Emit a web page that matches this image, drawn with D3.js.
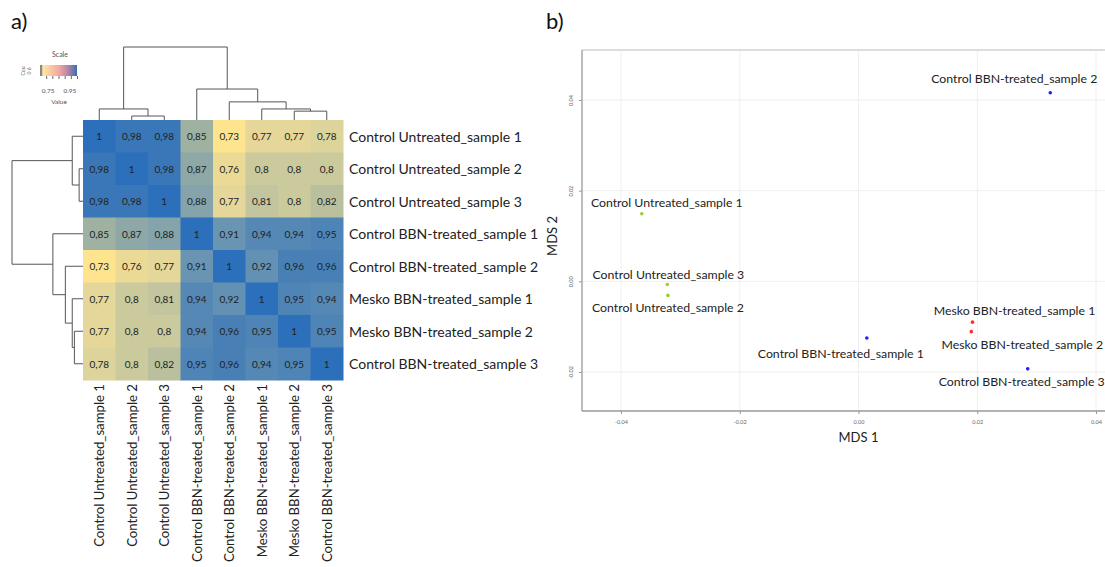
<!DOCTYPE html>
<html>
<head>
<meta charset="utf-8">
<script src="https://cdn.jsdelivr.net/npm/d3@7"></script>
<style>
body { margin: 0; background: #fff; }
text { font-family: Lato, "Open Sans", sans-serif; }
</style>
</head>
<body>
<svg id="chart" width="1105" height="567"></svg>
<script>
// heatmap data (row order = column order)
var samples = ["Control Untreated_sample 1", "Control Untreated_sample 2", "Control Untreated_sample 3",
    "Control BBN-treated_sample 1", "Control BBN-treated_sample 2", "Mesko BBN-treated_sample 1",
    "Mesko BBN-treated_sample 2", "Control BBN-treated_sample 3"];
var corr = [
    [1, 0.98, 0.98, 0.85, 0.73, 0.77, 0.77, 0.78],
    [0.98, 1, 0.98, 0.87, 0.76, 0.8, 0.8, 0.8],
    [0.98, 0.98, 1, 0.88, 0.77, 0.81, 0.8, 0.82],
    [0.85, 0.87, 0.88, 1, 0.91, 0.94, 0.94, 0.95],
    [0.73, 0.76, 0.77, 0.91, 1, 0.92, 0.96, 0.96],
    [0.77, 0.8, 0.81, 0.94, 0.92, 1, 0.95, 0.94],
    [0.77, 0.8, 0.8, 0.94, 0.96, 0.95, 1, 0.95],
    [0.78, 0.8, 0.82, 0.95, 0.96, 0.94, 0.95, 1]
];
// dendrogram merges: [child a, child b, height]; leaves 0-7, new nodes 8+
var merges = [[1, 2, 0.018], [0, 8, 0.05], [6, 7, 0.04], [5, 10, 0.05], [4, 11, 0.082], [3, 12, 0.14], [9, 13, 0.33]];
var scaleTicks = [0.75, 0.95];

// MDS data
var mdsNames = ["Control BBN-treated_sample 2", "Control Untreated_sample 1", "Control Untreated_sample 3",
    "Control Untreated_sample 2", "Mesko BBN-treated_sample 1", "Mesko BBN-treated_sample 2",
    "Control BBN-treated_sample 1", "Control BBN-treated_sample 3"];
var mdsX = [0.0323, -0.0365, -0.0322, -0.0321, 0.0192, 0.0190, 0.0014, 0.0285];
var mdsY = [0.0416, 0.0149, -0.0007, -0.0031, -0.0090, -0.0111, -0.0125, -0.0193];
var mdsGroup = ["BBN", "Untreated", "Untreated", "Untreated", "Mesko", "Mesko", "BBN", "BBN"];
var mdsXTicks = [-0.04, -0.02, 0, 0.02, 0.04];
var mdsYTicks = [-0.02, 0, 0.02, 0.04];

// label nudges (pixels), like ggrepel
var labelDx = [-36, 25, 1, 0, 42, 51, -26, -6];
var labelDy = [-14, -11.6, -10, 11.7, -12, 12.6, 15.6, 12.7];

var svg = d3.select("#chart");

svg.append("text").attr("x", 11).attr("y", 29).attr("font-size", 22).attr("fill", "#111").text("a)");
svg.append("text").attr("x", 546).attr("y", 29).attr("font-size", 22).attr("fill", "#111").text("b)");

// ---------- heatmap ----------
var n = samples.length;
var xB = d3.scaleBand().domain(d3.range(n)).range([83, 343]);
var yB = d3.scaleBand().domain(d3.range(n)).range([120, 380]);
var bw = xB.bandwidth();
var color = d3.scaleLinear()
    .domain([0.73, 0.78, 0.85, 0.91, 1])
    .range(["#fee48f", "#ddd49b", "#9fb1a1", "#6a95b2", "#2c6fba"]);

var cells = [];
corr.forEach(function(row, i) { row.forEach(function(v, j) { cells.push({ r: i, c: j, v: v }); }); });

var hm = svg.append("g");
hm.selectAll("rect").data(cells).enter().append("rect")
    .attr("x", function(d) { return xB(d.c); })
    .attr("y", function(d) { return yB(d.r); })
    .attr("width", bw + 0.5).attr("height", yB.bandwidth() + 0.5)
    .attr("fill", function(d) { return color(d.v); });
hm.selectAll("text").data(cells).enter().append("text")
    .attr("x", function(d) { return xB(d.c) + bw / 2; })
    .attr("y", function(d) { return yB(d.r) + yB.bandwidth() / 2; })
    .attr("text-anchor", "middle").attr("dominant-baseline", "central")
    .attr("font-size", 10).attr("fill", "#222")
    .text(function(d) { return d.v === 1 ? "1" : String(d.v).replace(".", ","); });

svg.append("g").selectAll("text").data(samples).enter().append("text")
    .attr("x", 349)
    .attr("y", function(d, i) { return yB(i) + yB.bandwidth() / 2; })
    .attr("dominant-baseline", "central")
    .attr("font-size", 14).attr("fill", "#222")
    .text(function(d) { return d; });

svg.append("g").selectAll("text").data(samples).enter().append("text")
    .attr("transform", function(d, i) { return "translate(" + (xB(i) + bw / 2) + ",384) rotate(-90)"; })
    .attr("text-anchor", "end").attr("dominant-baseline", "central")
    .attr("font-size", 13.2).attr("fill", "#222")
    .text(function(d) { return d; });

// dendrograms
var pos = d3.range(n), hgt = d3.range(n).map(function() { return 0; });
merges.forEach(function(m) {
    pos.push((pos[m[0]] + pos[m[1]]) / 2);
    hgt.push(m[2]);
});
var idx = d3.scaleLinear().domain([0, n - 1]).range([83 + bw / 2, 343 - bw / 2]);
var idxR = d3.scaleLinear().domain([0, n - 1]).range([120 + bw / 2, 380 - bw / 2]);
var hCol = d3.scaleLinear().domain([0, 0.33]).range([120, 47]);
var hRow = d3.scaleLinear().domain([0, 0.33]).range([83, 12]);

var dg = svg.append("g").attr("fill", "none").attr("stroke", "#555").attr("stroke-width", 1);
merges.forEach(function(m, k) {
    var a = m[0], b = m[1], h = m[2];
    dg.append("path").attr("d",
        "M" + idx(pos[a]) + "," + hCol(hgt[a]) + "V" + hCol(h) + "H" + idx(pos[b]) + "V" + hCol(hgt[b]));
    dg.append("path").attr("d",
        "M" + hRow(hgt[a]) + "," + idxR(pos[a]) + "H" + hRow(h) + "V" + idxR(pos[b]) + "H" + hRow(hgt[b]));
});

// colour key
var defs = svg.append("defs");
var grad = defs.append("linearGradient").attr("id", "key");
[[0, "#8a8a80"], [0.06, "#8a8a80"], [0.07, "#fde9a6"], [0.5, "#f6a9a0"], [0.75, "#b986a8"], [1, "#3a6cb2"]]
    .forEach(function(s) { grad.append("stop").attr("offset", s[0]).attr("stop-color", s[1]); });
var key = svg.append("g");
var keyX = d3.scaleLinear().domain([0.7, 1.0]).range([40, 77]);
key.append("text").attr("x", 60).attr("y", 57).attr("text-anchor", "middle").attr("font-size", 7).attr("fill", "#555").text("Scale");
key.append("rect").attr("x", 40).attr("y", 65).attr("width", 37).attr("height", 11).attr("fill", "url(#key)");
key.append("g").attr("transform", "translate(0,76)")
    .call(d3.axisBottom(keyX).tickValues([0.75, 0.8, 0.85, 0.9, 0.95, 1.0]).tickSize(3).tickFormat(""))
    .call(function(g) { g.select(".domain").remove(); g.selectAll("line").attr("stroke", "#666"); });
key.selectAll(".kl").data(scaleTicks).enter().append("text")
    .attr("x", function(d) { return keyX(d) + (d === 0.75 ? 2 : -1); }).attr("y", 93)
    .attr("text-anchor", "middle").attr("font-size", 6.5).attr("fill", "#555")
    .text(function(d) { return d.toFixed(2); });
key.append("text").attr("x", 59).attr("y", 104).attr("text-anchor", "middle").attr("font-size", 6.5).attr("fill", "#555").text("Value");
key.append("text").attr("transform", "translate(25,71) rotate(-90)").attr("text-anchor", "middle").attr("font-size", 5).attr("fill", "#666").text("Cou");
key.append("text").attr("transform", "translate(31,71) rotate(-90)").attr("text-anchor", "middle").attr("font-size", 5).attr("fill", "#666").text("0  6");

// ---------- MDS plot ----------
var xS = d3.scaleLinear().domain([-0.04, 0.04]).range([621, 1096]);
var yS = d3.scaleLinear().domain([-0.02, 0.04]).range([372, 100]);
var pL = 582, pR = 1110, pT = 50, pB = 411;

var mds = svg.append("g");
mds.selectAll(".gx").data(mdsXTicks).enter().append("line")
    .attr("x1", function(d) { return xS(d); }).attr("x2", function(d) { return xS(d); })
    .attr("y1", pT).attr("y2", pB).attr("stroke", "#ececec").attr("stroke-width", 0.8);
mds.selectAll(".gy").data(mdsYTicks).enter().append("line")
    .attr("x1", pL).attr("x2", pR)
    .attr("y1", function(d) { return yS(d); }).attr("y2", function(d) { return yS(d); })
    .attr("stroke", "#ececec").attr("stroke-width", 0.8);
mds.append("line").attr("x1", pL).attr("x2", pR).attr("y1", pT).attr("y2", pT).attr("stroke", "#bbb").attr("stroke-width", 1);
mds.append("line").attr("x1", pL).attr("x2", pR).attr("y1", pB).attr("y2", pB).attr("stroke", "#999").attr("stroke-width", 1.3);
mds.append("line").attr("x1", pL).attr("x2", pL).attr("y1", pT).attr("y2", pB).attr("stroke", "#999").attr("stroke-width", 1.3);

mds.append("g").attr("transform", "translate(0," + pB + ")")
    .call(d3.axisBottom(xS).tickValues(mdsXTicks).tickSize(3).tickFormat(function(d) { return d.toFixed(2); }))
    .call(function(g) {
        g.select(".domain").remove();
        g.selectAll("line").attr("stroke", "#999");
        g.selectAll("text").attr("font-size", 5.5).attr("fill", "#666").attr("dy", "1.2em").attr("font-family", "Lato");
    });
mds.append("g").attr("transform", "translate(" + pL + ",0)")
    .call(d3.axisLeft(yS).tickValues(mdsYTicks).tickSize(3).tickFormat(function(d) { return d.toFixed(2); }))
    .call(function(g) {
        g.select(".domain").remove();
        g.selectAll("line").attr("stroke", "#999");
        g.selectAll("text").attr("font-size", 5.5).attr("fill", "#666").attr("font-family", "Lato")
            .attr("x", null).attr("dy", null).attr("text-anchor", "middle")
            .attr("transform", "translate(-9,0) rotate(-90)");
    });
mds.append("text").attr("x", xS(0)).attr("y", 442).attr("text-anchor", "middle").attr("font-size", 13).attr("fill", "#222").text("MDS 1");
mds.append("text").attr("transform", "translate(557," + yS(0.01) + ") rotate(-90)").attr("text-anchor", "middle")
    .attr("font-size", 13).attr("fill", "#222").text("MDS 2");

var groupColor = { Untreated: "#9acd32", BBN: "#1f1fff", Mesko: "#ff2a2a" };
mds.selectAll("circle").data(mdsNames).enter().append("circle")
    .attr("cx", function(d, i) { return xS(mdsX[i]); })
    .attr("cy", function(d, i) { return yS(mdsY[i]); })
    .attr("r", 1.8)
    .attr("fill", function(d, i) { return groupColor[mdsGroup[i]]; });
mds.selectAll(".lab").data(mdsNames).enter().append("text")
    .attr("x", function(d, i) { return xS(mdsX[i]) + labelDx[i]; })
    .attr("y", function(d, i) { return yS(mdsY[i]) + labelDy[i]; })
    .attr("text-anchor", "middle").attr("dominant-baseline", "central")
    .attr("font-size", 12.3).attr("fill", "#222")
    .text(function(d) { return d; });
</script>
</body>
</html>
